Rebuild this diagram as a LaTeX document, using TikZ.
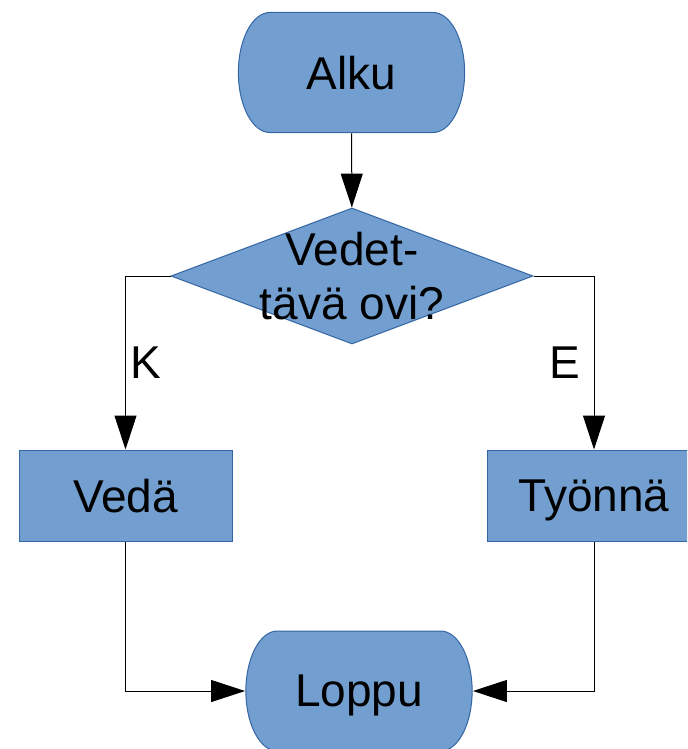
\documentclass[tikz,border=0pt]{standalone}
\usepackage{fontspec}
\setmainfont{Liberation Sans}
\usetikzlibrary{arrows.meta}
\usetikzlibrary{shapes.geometric}
\definecolor{sini}{HTML}{729FCF}
\definecolor{reuna}{HTML}{3465A4}

\begin{document}
\begin{tikzpicture}[x=0.75pt,y=-0.75pt]
    \tikzstyle{every node}=[font=\fontsize{34.5pt}{40.5pt}\selectfont]
    \tikzstyle{laatikko}=[draw=reuna, fill=sini, line width=0.75pt, inner sep=0pt]
    \tikzstyle{terminaali}=[rectangle, minimum width=170.5pt, minimum height=90.75pt, inner sep=0pt, text depth=0pt,
        path picture={\draw[draw=reuna, fill=sini, line width=0.75pt]
            ([xshift=24pt,yshift=-0.375pt]path picture bounding box.north west)
            -- ([xshift=-24pt,yshift=-0.375pt]path picture bounding box.north east)
            arc[start angle=90, end angle=-90, x radius=23.6pt, y radius=45pt]
            -- ([xshift=24pt,yshift=0.375pt]path picture bounding box.south west)
            arc[start angle=270, end angle=90, x radius=23.6pt, y radius=45pt]
            -- cycle;}]
    \tikzstyle{toiminto}=[laatikko, rectangle, minimum width=159.75pt, minimum height=68.25pt, text depth=0pt]
    \tikzstyle{ehto}=[laatikko, diamond, minimum width=271.5pt, minimum height=102pt]
    \tikzstyle{nuoli}=[line width=0.75pt, -{Triangle[length=25.5pt,width=16.5pt]}]
    \tikzstyle{haara}=[inner sep=2pt]

\useasboundingbox (0,0) rectangle (687,749);
\clip (0,0) rectangle (687,749);

% Alku ja ehto
\node[terminaali] (alku) at (351.5,72.5) {Alku};
\node[ehto, label={[name=ovi-teksti, align=center]center:Vedet-\\tävä ovi?}] (ovi) at (352,276) {};

% Toiminnot
\node[toiminto] (veda) at (125.5,495.5) {Vedä};
\node[toiminto] (tyonna) at (594,495.5) {Työnnä};

% Loppu
\node[terminaali] (loppu) at (359,691) {Loppu};

% Nuolet
\draw[nuoli] (alku) -- (ovi);
\draw[nuoli] (ovi.west) -| node[pos=0.75, right=1pt, haara]{K} (veda.north);
\draw[nuoli] (ovi.east) -| node[pos=0.75, left=8pt, haara]{E} (tyonna.north);
\draw[nuoli] (veda.south) |- (loppu.west);
\draw[nuoli] (tyonna.south) |- (loppu.east);

\end{tikzpicture}
\end{document}
